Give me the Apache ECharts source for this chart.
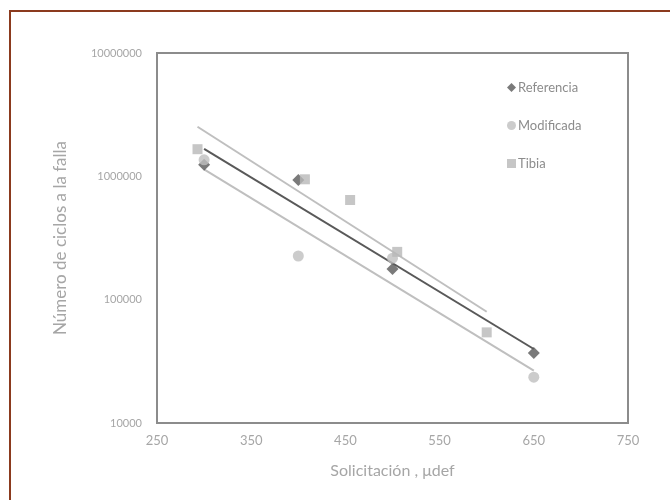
<!DOCTYPE html>
<html>
<head>
<meta charset="utf-8">
<script src="https://cdn.jsdelivr.net/npm/echarts@6/dist/echarts.min.js"></script>
<style>
  html, body { margin: 0; padding: 0; background: #fff; }
  #chart { width: 670px; height: 500px; }
</style>
</head>
<body>
<div id="chart"></div>
<script>
// Fatigue data: strain level (µdef) vs. cycles to failure
const refStrain = [300, 400, 500, 650];
const refCycles = [1240000, 934000, 177000, 36900];

const modStrain = [300, 400, 500, 650];
const modCycles = [1360000, 226000, 217000, 23500];

const tibStrain = [293, 407, 455, 505, 600];
const tibCycles = [1660000, 946000, 643000, 244000, 54300];

const xTicks = [250, 350, 450, 550, 650, 750];
const yTicks = [10000, 100000, 1000000, 10000000];

const seriesNames = ['Referencia', 'Modificada', 'Tibia'];

// Exponential trendline (least squares on ln y), evaluated at the ends of the data range
function expTrend(xs, ys) {
  const n = xs.length;
  const ly = ys.map(v => Math.log(v));
  const mx = xs.reduce((a, b) => a + b, 0) / n;
  const my = ly.reduce((a, b) => a + b, 0) / n;
  let sxy = 0, sxx = 0;
  for (let i = 0; i < n; i++) {
    sxy += (xs[i] - mx) * (ly[i] - my);
    sxx += (xs[i] - mx) * (xs[i] - mx);
  }
  const b = sxy / sxx;
  const a = my - b * mx;
  const x0 = Math.min(...xs), x1 = Math.max(...xs);
  return [[x0, Math.exp(a + b * x0)], [x1, Math.exp(a + b * x1)]];
}

const zip = (xs, ys) => xs.map((x, i) => [x, ys[i]]);

const DARK = '#595959';
const LIGHT = '#bfbfbf';
const TEXT = '#a6a6a6';
const FONT = 'Lato, "Open Sans", sans-serif';

const chart = echarts.init(document.getElementById('chart'), null, { renderer: 'canvas' });

chart.setOption({
  animation: false,
  backgroundColor: '#ffffff',
  graphic: [{
    type: 'rect',
    shape: { x: 10, y: 11, width: 700, height: 540 },
    style: { fill: 'none', stroke: '#8b3a1e', lineWidth: 2 },
    silent: true
  }],
  grid: {
    left: 157, right: 42, top: 53, bottom: 77,
    show: true,
    borderColor: '#8c8c8c',
    borderWidth: 2,
    backgroundColor: '#ffffff'
  },
  legend: {
    data: seriesNames,
    orient: 'vertical',
    left: 502,
    top: 76,
    itemWidth: 9,
    itemHeight: 9,
    itemGap: 25,
    textStyle: { color: '#8c8c8c', fontSize: 13, fontFamily: FONT, padding: [0, 0, 0, -3] }
  },
  xAxis: {
    type: 'value',
    min: xTicks[0],
    max: xTicks[xTicks.length - 1],
    interval: 100,
    name: 'Solicitación , μdef',
    nameLocation: 'middle',
    nameGap: 40,
    nameTextStyle: { color: TEXT, fontSize: 16, fontFamily: FONT },
    axisLine: { show: false },
    axisTick: { show: false },
    splitLine: { show: false },
    axisLabel: { color: TEXT, fontSize: 13, fontFamily: FONT, margin: 11 }
  },
  yAxis: {
    type: 'log',
    logBase: 10,
    min: yTicks[0],
    max: yTicks[yTicks.length - 1],
    name: 'Número de ciclos a la falla',
    nameLocation: 'middle',
    nameGap: 88,
    nameTextStyle: { color: TEXT, fontSize: 17, fontFamily: FONT },
    axisLine: { show: false },
    axisTick: { show: false },
    splitLine: { show: false },
    axisLabel: {
      color: TEXT, fontSize: 11, fontFamily: FONT, margin: 15,
      formatter: v => String(Math.round(v))
    }
  },
  series: [
    {
      name: 'Referencia', type: 'scatter', symbol: 'diamond', symbolSize: 12,
      itemStyle: { color: DARK }, data: zip(refStrain, refCycles), z: 3
    },
    {
      name: 'Modificada', type: 'scatter', symbol: 'circle', symbolSize: 11,
      itemStyle: { color: LIGHT }, data: zip(modStrain, modCycles), z: 4
    },
    {
      name: 'Tibia', type: 'scatter', symbol: 'rect', symbolSize: 10,
      itemStyle: { color: '#b8b8b8' }, data: zip(tibStrain, tibCycles), z: 5
    },
    {
      name: 'trend-ref', type: 'line', showSymbol: false, silent: true,
      lineStyle: { color: DARK, width: 2 }, data: expTrend(refStrain, refCycles), z: 2
    },
    {
      name: 'trend-mod', type: 'line', showSymbol: false, silent: true,
      lineStyle: { color: LIGHT, width: 2 }, data: expTrend(modStrain, modCycles), z: 2
    },
    {
      name: 'trend-tib', type: 'line', showSymbol: false, silent: true,
      lineStyle: { color: LIGHT, width: 2 }, data: expTrend(tibStrain, tibCycles), z: 2
    }
  ]
});
</script>
</body>
</html>
